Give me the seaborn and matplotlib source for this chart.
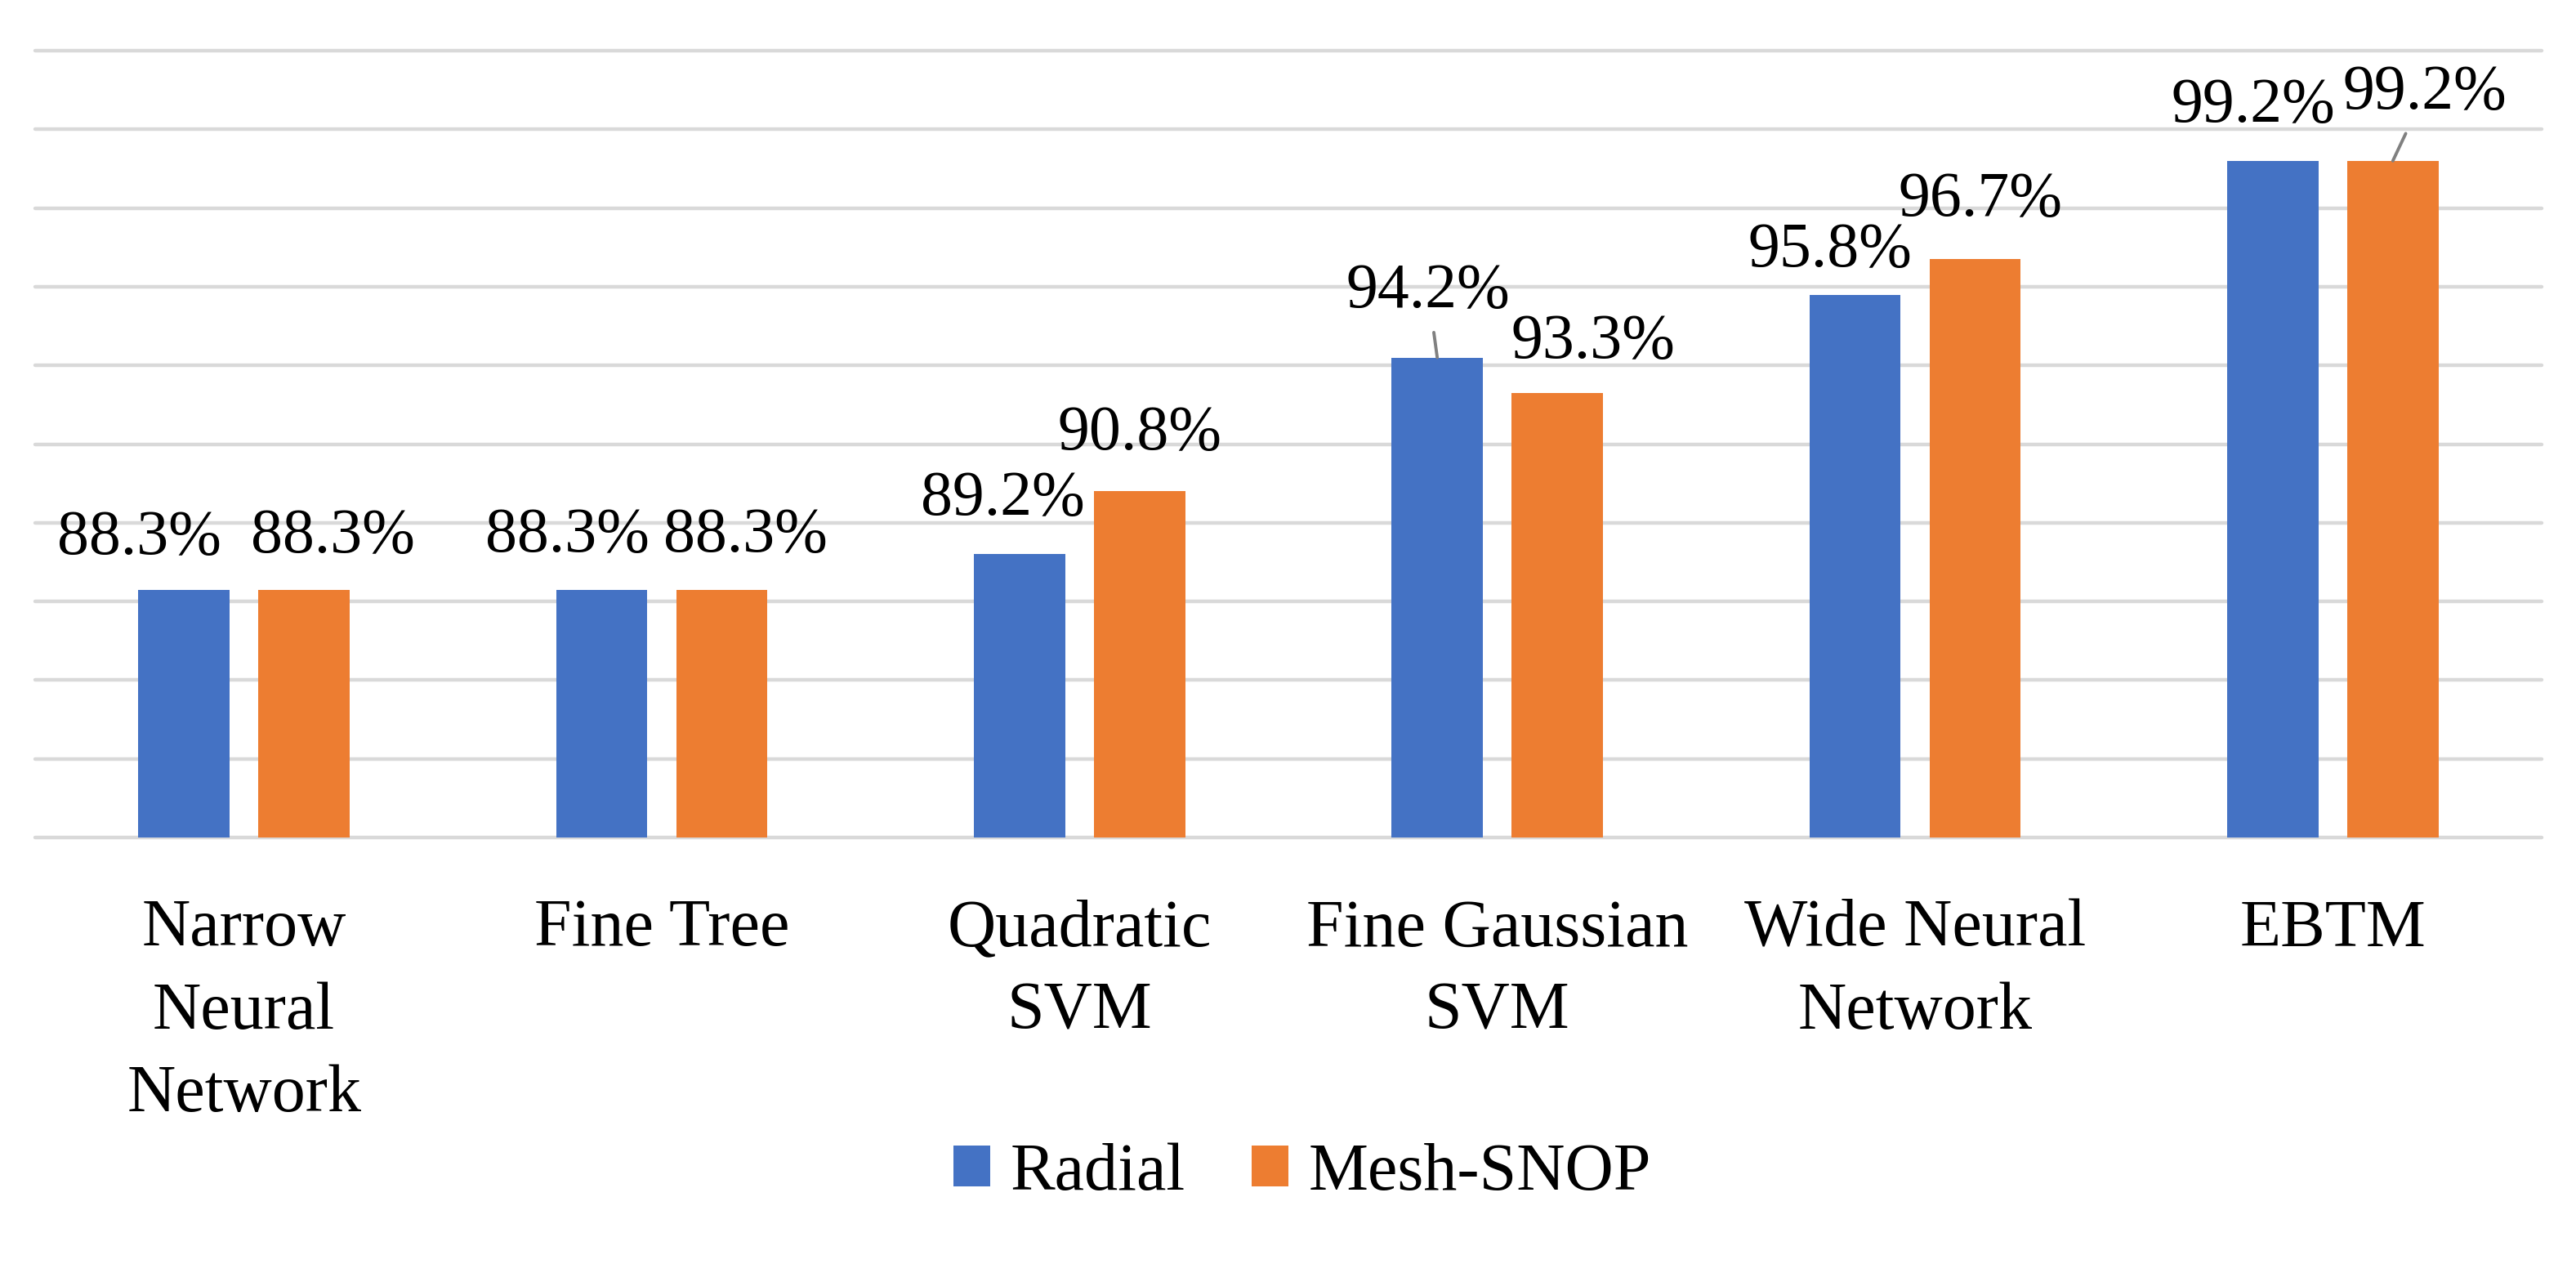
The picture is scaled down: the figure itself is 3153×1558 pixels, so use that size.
import numpy as np
import pandas as pd
import matplotlib
matplotlib.use("Agg")
import matplotlib.pyplot as plt
import seaborn as sns

# Data
models = ["Narrow\nNeural\nNetwork", "Fine Tree", "Quadratic\nSVM",
          "Fine Gaussian\nSVM", "Wide Neural\nNetwork", "EBTM"]
radial = [88.3, 88.3, 89.2, 94.2, 95.8, 99.2]
mesh_snop = [88.3, 88.3, 90.8, 93.3, 96.7, 99.2]
methods = ["Radial", "Mesh-SNOP"]

# label placement (pixels): horizontal shift, baseline height above bar top, leader line
label_dx = {"Radial": [-55, -42, -20, -11, -31, -24],
            "Mesh-SNOP": [35, 29, 0, 44, 6, 39]}
label_dy = {"Radial": [44, 47, 48, 62, 35, 48],
            "Mesh-SNOP": [46, 47, 51, 43, 53, 64]}
leader = {"Radial": [False, False, False, True, False, False],
          "Mesh-SNOP": [False, False, False, False, False, True]}

df = pd.DataFrame({"Model": models * 2,
                   "Accuracy": radial + mesh_snop,
                   "Method": [methods[0]] * len(models) + [methods[1]] * len(models)})

sns.set_style("white")
plt.rcParams["font.family"] = ["Liberation Serif", "DejaVu Serif"]
plt.rcParams["text.color"] = "black"
plt.rcParams["xtick.color"] = "black"

fig = plt.figure(figsize=(15.765, 7.79), dpi=200)
ax = fig.add_axes([43 / 3153, 1 - 1025 / 1558, 3068 / 3153, 963 / 1558])

sns.barplot(data=df, x="Model", y="Accuracy", hue="Method", ax=ax,
            palette=["#4472C4", "#ED7D31"], width=0.575, gap=0.24,
            linewidth=0, saturation=1)

ax.set_ylim(82, 102)
ax.set_yticks(np.arange(82, 103, 2))
ax.set_axisbelow(True)
ax.yaxis.grid(True, color="#d9d9d9", linewidth=1.6)
for gl in ax.get_ygridlines():
    gl.set_clip_on(False)
ax.xaxis.grid(False)
sns.despine(ax=ax, left=True, bottom=True)
ax.tick_params(axis="y", left=False, labelleft=False)
ax.tick_params(axis="x", length=0, pad=27, labelcolor="black")
ax.set_xticks(range(len(models)))
ax.set_xticklabels(models, fontsize=29.5, linespacing=1.45, color="black")
ax.set_xlabel("")
ax.set_ylabel("")

# data labels
for cont, m in zip(ax.containers, methods):
    for i, bar in enumerate(cont):
        x = bar.get_x() + bar.get_width() / 2
        h = bar.get_height()
        kw = {}
        if leader[m][i]:
            kw["arrowprops"] = dict(arrowstyle="-", color="#808080", lw=1.4,
                                    shrinkA=3, shrinkB=0)
        ax.annotate(f"{h:.1f}%", xy=(x, h), xytext=(label_dx[m][i], label_dy[m][i]),
                    textcoords="offset pixels", ha="center", va="baseline",
                    fontsize=28, color="black", annotation_clip=False, **kw)

sns.move_legend(ax, loc="center", bbox_to_anchor=((1594 - 43) / 3068, (1025 - 1436) / 963),
                ncol=2, frameon=False, title=None, fontsize=29.5,
                handlelength=0.55, handleheight=0.57, handletextpad=0.3,
                columnspacing=1.0, labelcolor="black")

fig.savefig("out.png", dpi=200, facecolor="white")
